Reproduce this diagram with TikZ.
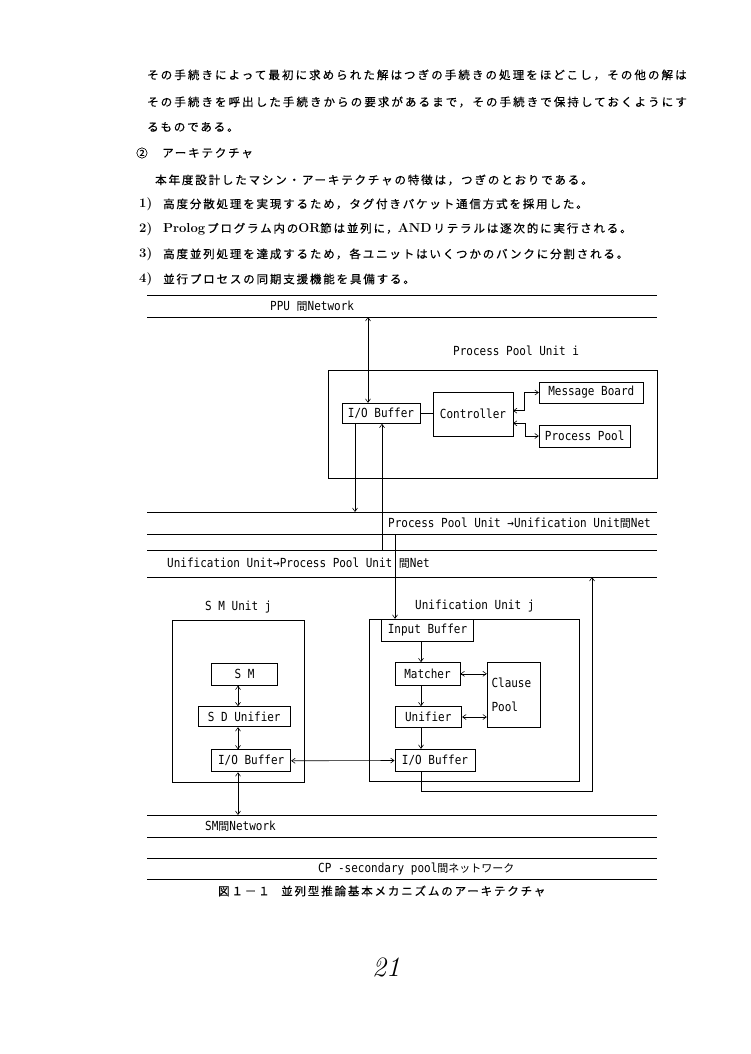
\documentclass[tikz,border=0pt]{standalone}
\usepackage{fontspec}
\usetikzlibrary{arrows.meta}
\newfontfamily\jp{Noto Sans CJK JP}
\newfontfamily\jpls[LetterSpace=16,FakeBold=0.4]{Noto Sans CJK JP}
\newfontfamily\jplw[LetterSpace=18,FakeBold=0.4]{Noto Sans CJK JP}
\newfontfamily\dm[FakeStretch=0.88]{DejaVu Sans Mono}
\newcommand\jk[1]{{\jp\fontsize{11}{13}\selectfont #1}}
\newcommand\bodyfont{\jpls\fontsize{11.5}{14}\selectfont}
\newcommand\bodywide{\jplw\fontsize{11.5}{14}\selectfont}
\newcommand\latf{\rmfamily\bfseries\fontsize{13}{15}\selectfont}
\newcommand\dmfont{\dm\fontsize{12.5}{15}\selectfont}
\newcommand\dmtall{\dm\fontsize{12.5}{24}\selectfont}
\begin{document}
\begin{tikzpicture}[x=1pt,y=-1pt,
  body/.style={anchor=west,inner sep=0pt,font=\bodyfont},
  lbl/.style={anchor=west,inner sep=0pt,font=\dmfont},
  blk/.style={draw,line width=0.9pt,inner sep=0pt,font=\dmfont},
  unitbox/.style={draw,line width=0.9pt,inner sep=0pt},
  net/.style={line width=0.9pt},
  con/.style={line width=0.6pt},
  tipe/.style={-{Straight Barb[length=3.5pt,width=5pt]}},
  tipb/.style={{Straight Barb[length=3.5pt,width=5pt]}-{Straight Barb[length=3.5pt,width=5pt]}}]
\useasboundingbox (0,0) rectangle (750,1054);
\fill[white] (0,0) rectangle (750,1054);

% body text
\node[body,font=\bodywide] (t1) at (147,75) {その手続きによって最初に求められた解はつぎの手続きの処理をほどこし，その他の解は};
\node[body,font=\bodywide] (t2) at (147,102) {その手続きを呼出した手続きからの要求があるまで，その手続きで保持しておくようにす};
\node[body] (t3) at (147,127) {るものである。};
\node[body] (t4a) at (136,153) {②};
\node[body] (t4) at (162,153) {アーキテクチャ};
\node[body] (t5) at (155,180) {本年度設計したマシン・アーキテクチャの特徴は，つぎのとおりである。};
\node[body,font=\latf] (n6) at (139,204) {1)};
\node[body] (t6) at (163,204) {高度分散処理を実現するため，タグ付きパケット通信方式を採用した。};
\node[body,font=\latf] (n7) at (139,229) {2)};
\node[body] (t7) at (163,229) {{\latf Prolog}\,プログラム内の{\latf OR}節は並列に，{\latf AND}\,リテラルは逐次的に実行される。};
\node[body,font=\latf] (n8) at (139,254) {3)};
\node[body] (t8) at (163,254) {高度並列処理を達成するため，各ユニットはいくつかのバンクに分割される。};
\node[body,font=\latf] (n9) at (139,279) {4)};
\node[body] (t9) at (163,279) {並行プロセスの同期支援機能を具備する。};

% network lines
\foreach \nm/\yy in {pa/295,pb/317,qa/512,qb/534,ra/550,rb/577,sa/815,sb/837,ca/858,cb/879}{
  \coordinate (\nm L) at (147,\yy);
  \coordinate (\nm R) at (657,\yy);
  \draw[net] (\nm L) -- (\nm R);
}
\node[lbl] (ppunet) at (270,306.5) {PPU \jk{間}Network};
\node[lbl] (p2u) at (388,523) {Process Pool Unit →Unification Unit\jk{間}Net};
\node[lbl] (u2p) at (167,563.5) {Unification Unit→Process Pool Unit \jk{間}Net};
\node[lbl] (smnet) at (205,826.5) {SM\jk{間}Network};
\node[lbl] (cpnet) at (318,869) {CP -secondary pool\jk{間ネットワーク}};

% Process Pool Unit
\node[lbl] (ppt) at (453,351) {Process Pool Unit i};
\node[unitbox,minimum width=329pt,minimum height=108pt] (ppu) at (492.5,424) {};
\node[blk,minimum width=78pt,minimum height=20pt] (iob1) at (381,413.3) {I/O Buffer};
\node[blk,minimum width=80pt,minimum height=44pt] (ctrl) at (473,414) {Controller};
\node[blk,minimum width=104pt,minimum height=21pt] (mb) at (591.3,392.5) {Message Board};
\node[blk,minimum width=91pt,minimum height=22pt] (pp) at (584.7,436) {Process Pool};

\draw[con] (iob1.east) -- (ctrl.west |- iob1.east);
\coordinate (c1) at (513,410.7);
\coordinate (c2) at (513,423.3);
\draw[con,tipb] (c1) -- (524,410.7) |- (mb.west);
\draw[con,tipb] (c2) -- (525,423.3) |- (pp.west);

\coordinate (xa) at (355,0);
\coordinate (xb) at (382,0);
\coordinate (xc) at (395,0);
\coordinate (xp) at (368,0);
\draw[con,tipb] (xp |- pbL) -- (xp |- iob1.north);
\draw[con,tipe] (xa |- iob1.south) -- (xa |- qaL);
\draw[con,tipe] (xb |- raL) -- (xb |- iob1.south);

% SM Unit
\node[lbl] (smt) at (205,607) {S M Unit j};
\node[unitbox,minimum width=131.3pt,minimum height=162pt] (smu) at (238.35,701.7) {};
\node[blk,minimum width=66pt,minimum height=22pt] (sm) at (244.5,674.2) {S M};
\node[blk,minimum width=92pt,minimum height=20pt] (sdu) at (244.2,716.7) {S D Unifier};
\node[blk,minimum width=79pt,minimum height=22pt] (iob2) at (251.2,760.8) {I/O Buffer};
\coordinate (xs) at (238,0);
\draw[con,tipb] (xs |- sm.south) -- (xs |- sdu.north);
\draw[con,tipb] (xs |- sdu.south) -- (xs |- iob2.north);
\draw[con,tipb] (xs |- iob2.south) -- (xs |- saL);

% Unification Unit
\node[lbl] (uut) at (415,606) {Unification Unit j};
\node[unitbox,minimum width=210pt,minimum height=162.4pt] (uu) at (474.3,700.5) {};
\node[blk,fill=white,minimum width=91.6pt,minimum height=22.4pt] (inb) at (427.5,630.5) {Input Buffer};
\node[blk,minimum width=65pt,minimum height=22.3pt] (mat) at (427.5,673.8) {Matcher};
\node[blk,minimum width=66.7pt,minimum height=20.6pt] (unf) at (428.3,717) {Unifier};
\node[blk,minimum width=53.4pt,minimum height=64.6pt,align=left,text width=45pt,font=\dmtall] (cp) at (514,695) {Clause\\Pool};
\node[blk,minimum width=80pt,minimum height=22.4pt] (iob3) at (435,760.5) {I/O Buffer};
\coordinate (xu) at (421,0);
\draw[con,tipe] (xc |- qbL) -- (xc |- inb.north);
\draw[con,tipe] (xu |- inb.south) -- (xu |- mat.north);
\draw[con,tipe] (xu |- mat.south) -- (xu |- unf.north);
\draw[con,tipe] (xu |- unf.south) -- (xu |- iob3.north);
\draw[con,tipb] (mat.east) -- (cp.west |- mat.east);
\draw[con,tipb] (unf.east) -- (cp.west |- unf.east);
\draw[con,tipb] (iob2.east) -- (iob3.west);
\coordinate (xr) at (592,0);
\coordinate (yr) at (0,791.7);
\draw[con,tipe] (xu |- iob3.south) -- (xu |- yr) -- (xr |- yr) -- (xr |- rbL);

% caption and page number
\node[body] (cap) at (218,891) {図１－１\quad 並列型推論基本メカニズムのアーキテクチャ};
\node[inner sep=0pt,font=\itshape\fontsize{28}{30}\selectfont] (pg) at (386,967) {21};
\end{tikzpicture}
\end{document}
